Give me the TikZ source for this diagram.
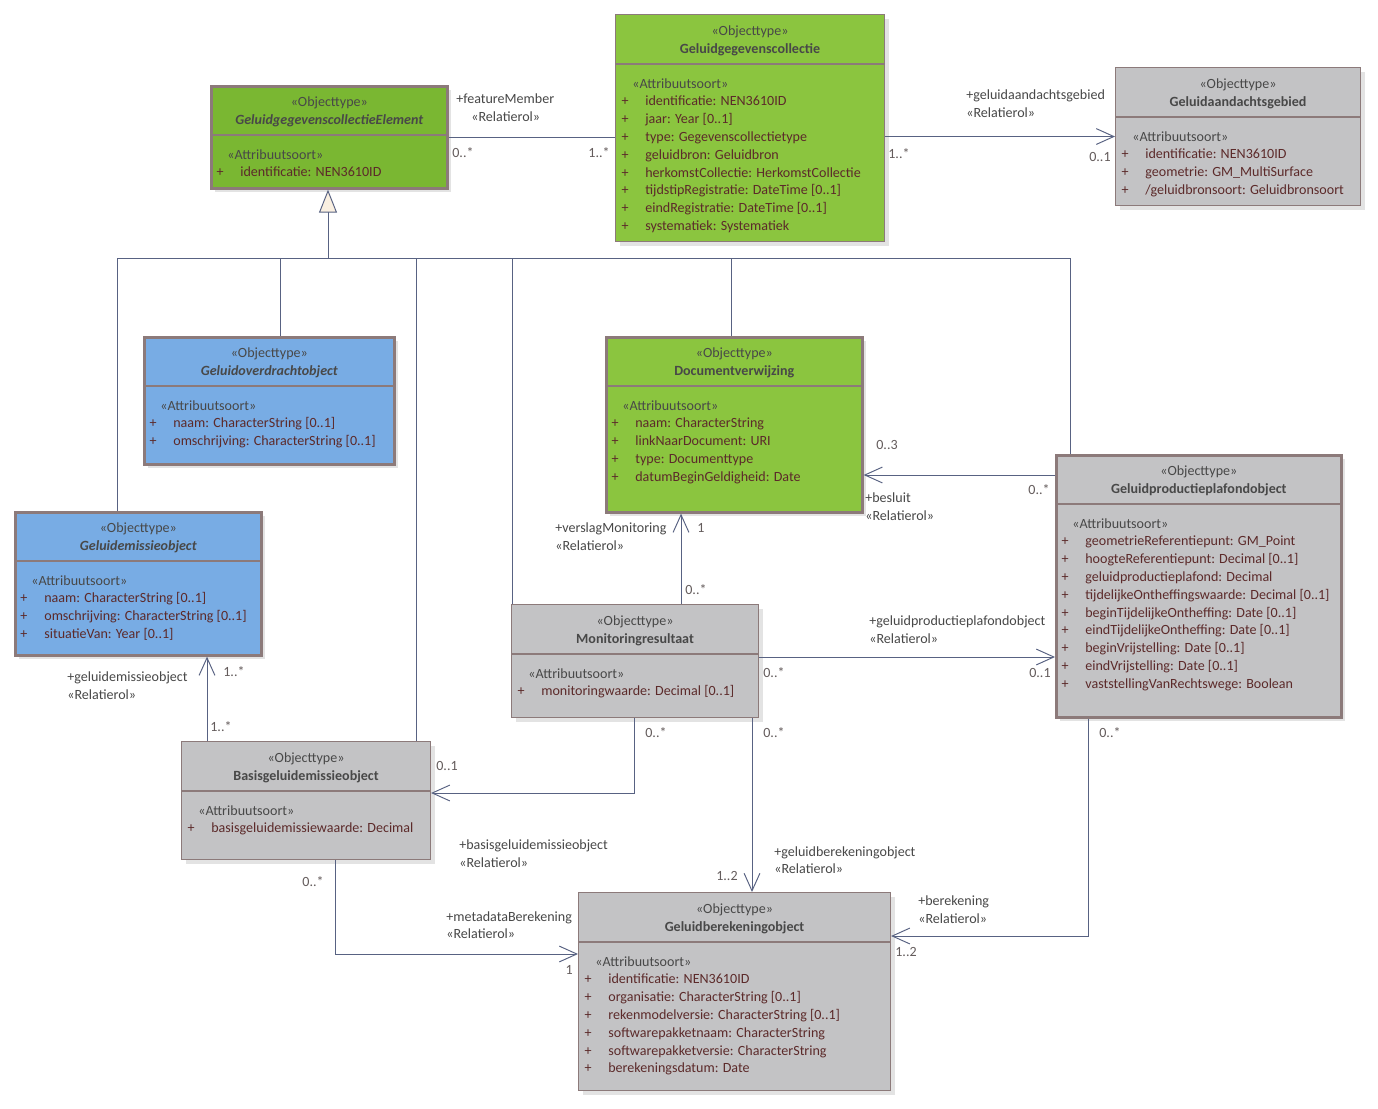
\documentclass[tikz,border=0pt]{standalone}
\usepackage{fontspec}
\setmainfont{Carlito}
\usepackage{tikz}
\usetikzlibrary{calc,arrows.meta,shadows}

\definecolor{groenDonker}{RGB}{122,183,50}
\definecolor{groenLicht}{RGB}{139,197,63}
\definecolor{blauw}{RGB}{120,172,228}
\definecolor{grijs}{RGB}{195,195,197}
\definecolor{rand}{RGB}{140,122,122}
\definecolor{lijn}{RGB}{88,98,130}
\definecolor{attrKleur}{RGB}{92,42,42}
\definecolor{tekstGrijs}{RGB}{72,72,72}
\definecolor{multKleur}{RGB}{100,92,92}
\definecolor{driehoek}{RGB}{250,240,225}

\tikzset{
    klasse/.style={draw=rand, anchor=north west, inner sep=0pt,
        drop shadow={shadow xshift=0.08cm, shadow yshift=-0.08cm, opacity=0.22}},
    dikrand/.style={line width=1.5pt},
    dunrand/.style={line width=0.6pt},
    letter/.style={inner sep=0pt, text height=1.6ex, text depth=0.4ex, font=\fontsize{8}{10}\selectfont},
    stereo/.style={letter, text=tekstGrijs},
    titel/.style={letter, text=tekstGrijs, font=\fontsize{8}{10}\selectfont\bfseries},
    abstract/.style={titel, font=\fontsize{8}{10}\selectfont\bfseries\itshape},
    attr/.style={letter, text=attrKleur},
    rol/.style={letter, text=tekstGrijs},
    mult/.style={letter, text=multKleur},
    assoc/.style={draw=lijn, line width=0.55pt},
    pijl/.style={assoc, -{Straight Barb[length=10pt, width=9pt]}},
}

% klasse: naam, positie (linksboven), breedte, hoogte, stijl, titelstijl, titel, attributen
\newcommand{\klasse}[8]{
    \node[klasse, #5, minimum width=#3*0.02cm, minimum height=#4*0.02cm] (#1) at (#2) {};
    \draw[draw=rand, #5] ($(#1.north west)+(0,50)$) -- ($(#1.north east)+(0,50)$);
    \node[stereo] (#1-st) at ($(#1.north)+(0,16)$) {«Objecttype»};
    \node[#6] (#1-ti) at ($(#1.north)+(0,34)$) {#7};
    \node[stereo, right] (#1-as) at ($(#1.north west)+(17,69)$) {«Attribuutsoort»};
    \foreach \veld [count=\i] in {#8} {
        \node[attr] (#1-p\i) at ($(#1.north west)+(10,69+17.8*\i)$) {+};
        \node[attr, right] (#1-a\i) at ($(#1.north west)+(30,69+17.8*\i)$) {\veld};
    }
}

\begin{document}
\begin{tikzpicture}[x=0.02cm, y=-0.02cm]
        \path[use as bounding box, fill=white] (0,0) rectangle (1378,1108);

        % klassen (coordinaten in pixels van de afbeelding)
        \klasse{ggce}{210,85}{236}{102}{dikrand, fill=groenDonker}{abstract}{GeluidgegevenscollectieElement}
            {{identificatie: NEN3610ID}}
        \klasse{ggc}{615,14}{269}{227}{dunrand, fill=groenLicht}{titel}{Geluidgegevenscollectie}
            {{identificatie: NEN3610ID}, {jaar: Year [0..1]}, {type: Gegevenscollectietype},
             {geluidbron: Geluidbron}, {herkomstCollectie: HerkomstCollectie},
             {tijdstipRegistratie: DateTime [0..1]}, {eindRegistratie: DateTime [0..1]},
             {systematiek: Systematiek}}
        \klasse{gag}{1115,67}{245}{138}{dunrand, fill=grijs}{titel}{Geluidaandachtsgebied}
            {{identificatie: NEN3610ID}, {geometrie: GM\_MultiSurface}, {/geluidbronsoort: Geluidbronsoort}}
        \klasse{goo}{143,336}{250}{127}{dikrand, fill=blauw}{abstract}{Geluidoverdrachtobject}
            {{naam: CharacterString [0..1]}, {omschrijving: CharacterString [0..1]}}
        \klasse{geo}{14,511}{246}{143}{dikrand, fill=blauw}{abstract}{Geluidemissieobject}
            {{naam: CharacterString [0..1]}, {omschrijving: CharacterString [0..1]}, {situatieVan: Year [0..1]}}
        \klasse{dv}{605,336}{256}{175}{dikrand, fill=groenLicht}{titel}{Documentverwijzing}
            {{naam: CharacterString}, {linkNaarDocument: URI}, {type: Documenttype},
             {datumBeginGeldigheid: Date}}
        \klasse{gppo}{1055,454}{285}{262}{dikrand, fill=grijs}{titel}{Geluidproductieplafondobject}
            {{geometrieReferentiepunt: GM\_Point}, {hoogteReferentiepunt: Decimal [0..1]},
             {geluidproductieplafond: Decimal}, {tijdelijkeOntheffingswaarde: Decimal [0..1]},
             {beginTijdelijkeOntheffing: Date [0..1]}, {eindTijdelijkeOntheffing: Date [0..1]},
             {beginVrijstelling: Date [0..1]}, {eindVrijstelling: Date [0..1]},
             {vaststellingVanRechtswege: Boolean}}
        \klasse{mr}{511,604}{247}{113}{dunrand, fill=grijs}{titel}{Monitoringresultaat}
            {{monitoringwaarde: Decimal [0..1]}}
        \klasse{bgeo}{181,741}{249}{118}{dunrand, fill=grijs}{titel}{Basisgeluidemissieobject}
            {{basisgeluidemissiewaarde: Decimal}}
        \klasse{gbo}{578,892}{312}{198}{dunrand, fill=grijs}{titel}{Geluidberekeningobject}
            {{identificatie: NEN3610ID}, {organisatie: CharacterString [0..1]},
             {rekenmodelversie: CharacterString [0..1]}, {softwarepakketnaam: CharacterString},
             {softwarepakketversie: CharacterString}, {berekeningsdatum: Date}}

        % generalisatie naar GeluidgegevenscollectieElement
        \draw[assoc] (117,0 |- geo.north) -- (117,258) -- (1070,258) -- (1070,0 |- gppo.north);
        \foreach \x/\kind in {280/goo, 416/bgeo, 512/mr, 731/dv}
            \draw[assoc] (\x,258) -- (\x,0 |- \kind.north);
        \draw[assoc, -{Triangle[length=0.46cm, width=0.36cm, fill=driehoek]}] (328,258) -- (328,0 |- ggce.south);

        % associaties
        \draw[assoc] (ggce.east) -- (ggce.east -| ggc.west);
        \draw[pijl] (ggc.east |- gag.west) -- (gag.west);
        \draw[pijl] (gppo.west |- 0,475) -- (dv.east |- 0,475);
        \draw[pijl] (681,0 |- mr.north) -- (681,0 |- dv.south);
        \draw[pijl] (mr.east |- 0,657) -- (gppo.west |- 0,657);
        \draw[pijl] (634,0 |- mr.south) |- (bgeo.east |- 0,793);
        \draw[pijl] (752,0 |- mr.south) -- (752,0 |- gbo.north);
        \draw[pijl] (1088,0 |- gppo.south) |- (gbo.east |- 0,936);
        \draw[pijl] (335,0 |- bgeo.south) |- (gbo.west |- 0,954);
        \draw[pijl] (207,0 |- bgeo.north) -- (207,0 |- geo.south);

        % rollen en multipliciteiten
        \node[rol, right] (fmRol) at (456,98) {+featureMember};
        \node[rol, right] (fmSt) at (471,116) {«Relatierol»};
        \node[mult, right] (fmA) at (452,152) {0..*};
        \node[mult, left] (fmB) at (610,152) {1..*};

        \node[rol, right] (gagRol) at (966,94) {+geluidaandachtsgebied};
        \node[rol, right] (gagSt) at (966,112) {«Relatierol»};
        \node[mult, right] (gagA) at (888,153) {1..*};
        \node[mult, left] (gagB) at (1111,156) {0..1};

        \node[mult, right] (besA) at (876,444) {0..3};
        \node[rol, right] (besRol) at (865,497) {+besluit};
        \node[rol, right] (besSt) at (865,515) {«Relatierol»};
        \node[mult, left] (besB) at (1050,489) {0..*};

        \node[rol, right] (vmRol) at (555,527) {+verslagMonitoring};
        \node[rol, right] (vmSt) at (555,545) {«Relatierol»};
        \node[mult, right] (vmA) at (697,527) {1};
        \node[mult, right] (vmB) at (685,589) {0..*};

        \node[rol, right] (gppRol) at (869,620) {+geluidproductieplafondobject};
        \node[rol, right] (gppSt) at (869,638) {«Relatierol»};
        \node[mult, right] (gppA) at (763,672) {0..*};
        \node[mult, left] (gppB) at (1051,672) {0..1};

        \node[mult, right] (bgA) at (645,732) {0..*};
        \node[mult, right] (bgB) at (436,765) {0..1};
        \node[rol, right] (bgRol) at (459,844) {+basisgeluidemissieobject};
        \node[rol, right] (bgSt) at (459,862) {«Relatierol»};

        \node[mult, right] (gbA) at (763,732) {0..*};
        \node[mult, left] (gbB) at (738,875) {1..2};
        \node[rol, right] (gbRol) at (774,851) {+geluidberekeningobject};
        \node[rol, right] (gbSt) at (774,868) {«Relatierol»};

        \node[mult, right] (berA) at (1099,732) {0..*};
        \node[rol, right] (berRol) at (918,900) {+berekening};
        \node[rol, right] (berSt) at (918,918) {«Relatierol»};
        \node[mult, right] (berB) at (895,951) {1..2};

        \node[mult, left] (mbA) at (324,881) {0..*};
        \node[rol, right] (mbRol) at (446,916) {+metadataBerekening};
        \node[rol, right] (mbSt) at (446,933) {«Relatierol»};
        \node[mult, left] (mbB) at (573,969) {1};

        \node[rol, right] (geRol) at (67,676) {+geluidemissieobject};
        \node[rol, right] (geSt) at (67,694) {«Relatierol»};
        \node[mult, right] (geA) at (223,671) {1..*};
        \node[mult, right] (geB) at (210,726) {1..*};
\end{tikzpicture}
\end{document}
